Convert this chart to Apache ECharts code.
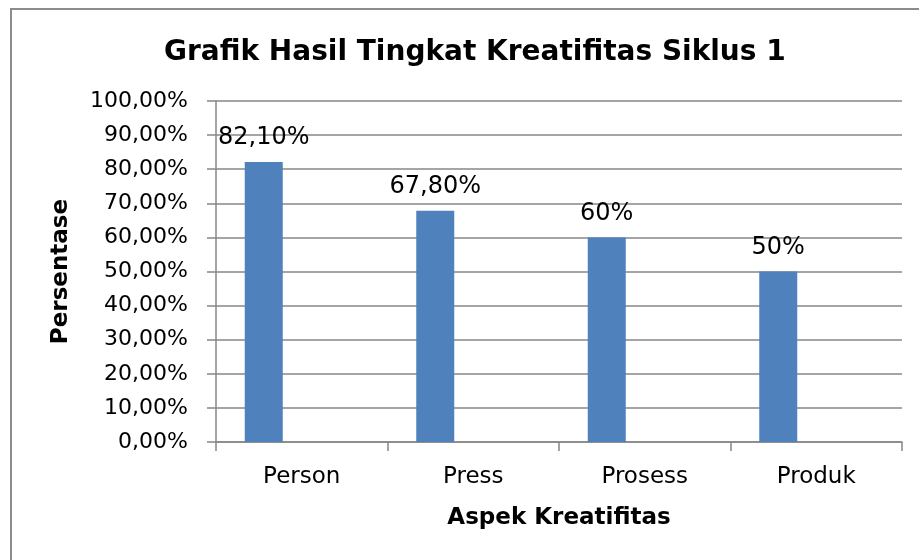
<!DOCTYPE html>
<html>
<head>
<meta charset="utf-8">
<script src="https://cdn.jsdelivr.net/npm/echarts@6/dist/echarts.min.js"></script>
<style>
  html, body { margin: 0; padding: 0; background: #ffffff; }
  #chart { width: 919px; height: 560px; }
</style>
</head>
<body>
<div id="chart"></div>
<script>
  const categories = ['Person', 'Press', 'Prosess', 'Produk'];
  const values = [0.821, 0.678, 0.60, 0.50];
  const valueLabels = ['82,10%', '67,80%', '60%', '50%'];
  const emptySeries = [null, null, null, null];

  const font = 'DejaVu Sans';
  const gray = '#878787';

  let chart = echarts.init(document.getElementById('chart'));
  chart.setOption({
    backgroundColor: '#ffffff',
    animation: false,
    title: {
      text: 'Grafik Hasil Tingkat Kreatifitas Siklus 1',
      left: 164,
      top: 39,
      padding: 0,
      textStyle: {
        fontFamily: font,
        fontWeight: 'bold',
        fontSize: 28,
        color: '#000000'
      }
    },
    graphic: [
      {
        type: 'polyline',
        shape: { points: [[11, 560], [11, 9], [919, 9]] },
        style: { stroke: '#8c8c8c', lineWidth: 2, fill: null }
      }
    ],
    grid: {
      left: 216,
      right: 17,
      top: 101,
      bottom: 118
    },
    xAxis: {
      type: 'category',
      data: categories,
      name: 'Aspek Kreatifitas',
      nameLocation: 'middle',
      nameGap: 65,
      nameTextStyle: {
        fontFamily: font,
        fontWeight: 'bold',
        fontSize: 23,
        color: '#000000'
      },
      axisLine: { lineStyle: { color: gray, width: 1.5 } },
      axisTick: { show: true, length: 9, lineStyle: { color: gray, width: 1.5 } },
      axisLabel: {
        margin: 24,
        fontFamily: font,
        fontSize: 23,
        color: '#000000'
      }
    },
    yAxis: {
      type: 'value',
      min: 0,
      max: 1,
      interval: 0.1,
      name: 'Persentase',
      nameLocation: 'middle',
      nameGap: 143,
      nameTextStyle: {
        fontFamily: font,
        fontWeight: 'bold',
        fontSize: 23,
        color: '#000000'
      },
      axisLine: { show: true, lineStyle: { color: gray, width: 1.5 } },
      axisTick: { show: true, length: 9, lineStyle: { color: gray, width: 1.5 } },
      splitLine: { show: true, lineStyle: { color: gray, width: 1.5 } },
      axisLabel: {
        margin: 28,
        fontFamily: font,
        fontSize: 22,
        color: '#000000',
        formatter: function (v) {
          return (v * 100).toFixed(2).replace('.', ',') + '%';
        }
      }
    },
    series: [
      {
        name: 'Persentase',
        type: 'bar',
        data: values,
        barWidth: 38,
        barGap: '100%',
        itemStyle: { color: '#4f81bd' },
        label: {
          show: true,
          position: 'top',
          distance: 12,
          fontFamily: font,
          fontSize: 24,
          color: '#000000',
          formatter: function (p) {
            return valueLabels[p.dataIndex];
          }
        }
      },
      {
        name: 'Kosong',
        type: 'bar',
        data: emptySeries,
        barWidth: 38,
        itemStyle: { color: '#c0504d' }
      }
    ]
  });
</script>
</body>
</html>
